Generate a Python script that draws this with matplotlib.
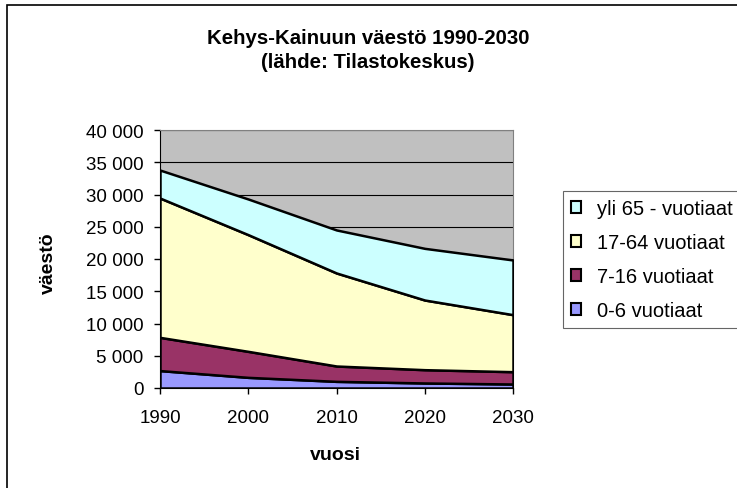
import numpy as np
import matplotlib.pyplot as plt
from matplotlib.patches import Rectangle, Patch

plt.rcParams['font.family'] = ['Liberation Sans', 'DejaVu Sans']

# Data
years = [1990, 2000, 2010, 2020, 2030]
age_0_6 = [2700, 1650, 1030, 780, 620]
age_7_16 = [5150, 4030, 2380, 2060, 1910]
age_17_64 = [21600, 18090, 14420, 10800, 8840]
age_65 = [4340, 5530, 6670, 8010, 8480]

labels = ['0-6 vuotiaat', '7-16 vuotiaat', '17-64 vuotiaat', 'yli 65 - vuotiaat']
colors = ['#9999FF', '#993366', '#FFFFCC', '#CCFFFF']

W, H = 737, 489
fig = plt.figure(figsize=(W / 100, H / 100), dpi=100)
fig.patches.append(Rectangle((7 / W, -0.1), 1.2, 1 - 6 / H + 0.1,
                             transform=fig.transFigure, fill=False,
                             edgecolor='black', linewidth=1.2))

ax = fig.add_axes([160 / W, 1 - 389 / H, 353 / W, 258 / H])
ax.set_facecolor('#C0C0C0')

x = np.arange(len(years))
ax.stackplot(x, age_0_6, age_7_16, age_17_64, age_65, colors=colors,
             edgecolor='black', linewidth=1.8, zorder=3)

ax.set_xlim(0, len(years) - 1)
ax.set_ylim(0, 40000)
ax.set_xticks(x)
ax.set_xticklabels([str(y) for y in years], fontsize=13.5)
yt = np.arange(0, 40001, 5000)
ax.set_yticks(yt)
ax.set_yticklabels([f'{v:,}'.replace(',', ' ') for v in yt], fontsize=13.5)
ax.yaxis.grid(True, color='black', linewidth=0.8, zorder=1)
ax.set_axisbelow(True)
ax.tick_params(direction='out', length=4, width=1, color='black')
ax.tick_params(axis='x', pad=11)
ax.tick_params(axis='y', pad=8)

for s in ['top', 'right']:
    ax.spines[s].set_color('#808080')
for s in ['left', 'bottom']:
    ax.spines[s].set_color('black')

fig.text(335 / W, 1 - 456 / H, 'vuosi', ha='center', va='center',
         fontsize=14, fontweight='bold')
fig.text(48 / W, 1 - 263 / H, 'väestö', ha='center', va='center',
         rotation=90, fontsize=14, fontweight='bold')

fig.text(368 / W, 1 - 38 / H, 'Kehys-Kainuun väestö 1990-2030', ha='center',
         va='center', fontsize=14.7, fontweight='bold')
fig.text(368 / W, 1 - 63 / H, '(lähde: Tilastokeskus)', ha='center',
         va='center', fontsize=14.7, fontweight='bold')

handles = [Patch(facecolor=c, edgecolor='black', linewidth=1.5) for c in colors]
leg = fig.legend(handles[::-1], labels[::-1], loc='upper left',
                 bbox_to_anchor=(563 / W, 1 - 192 / H), fontsize=14.5,
                 frameon=True, fancybox=False, edgecolor='#404040',
                 handlelength=0.5, handleheight=0.5, handletextpad=0.8,
                 labelspacing=0.75, borderpad=0.4, borderaxespad=0)
leg.get_frame().set_linewidth(0.8)

fig.savefig('out.png', dpi=100)
